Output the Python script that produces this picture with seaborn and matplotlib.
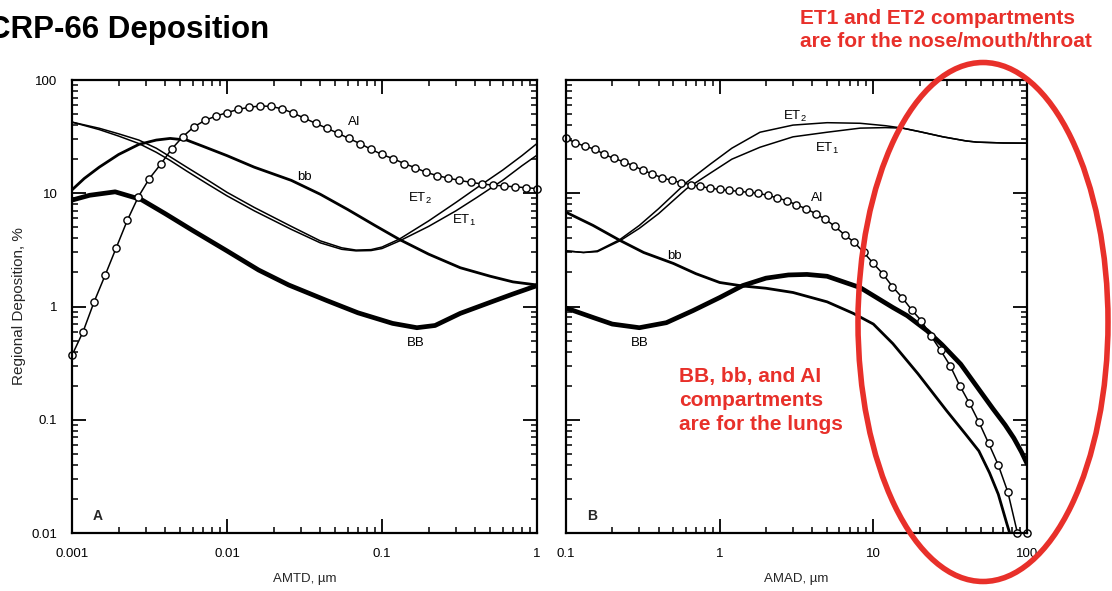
import matplotlib
matplotlib.use("Agg")
import matplotlib.pyplot as plt
from matplotlib.patches import Ellipse
import seaborn as sns

# ---- values (percent deposition) ----

# panel A: activity median thermodynamic diameter, um
amtd_ai = [0.001, 0.00118, 0.00139, 0.00164, 0.00193, 0.00228, 0.00268, 0.00316,
           0.00373, 0.00439, 0.00518, 0.00611, 0.0072, 0.00848, 0.01, 0.0118,
           0.0139, 0.0164, 0.0193, 0.0228, 0.0268, 0.0316, 0.0373, 0.0439,
           0.0518, 0.0611, 0.072, 0.0848, 0.1, 0.118, 0.139, 0.164, 0.193,
           0.228, 0.268, 0.316, 0.373, 0.439, 0.518, 0.611, 0.72, 0.848, 1.0]
ai_a = [0.37, 0.6, 1.1, 1.9, 3.3, 5.8, 9.3, 13.5, 18, 24.5, 31.5, 38.5, 44, 48,
        51.5, 55, 57.5, 59, 58.5, 55.5, 51, 46, 41.5, 37.6, 34, 30.5, 27.5, 24.5,
        22, 20.2, 18.3, 16.8, 15.3, 14.3, 13.6, 13, 12.5, 12.1, 11.8, 11.6, 11.4,
        11.2, 11.0]

amtd_bb = [0.001, 0.0012, 0.0015, 0.002, 0.0027, 0.0035, 0.0043, 0.0055, 0.007,
           0.01, 0.015, 0.026, 0.04, 0.06, 0.09, 0.13, 0.2, 0.32, 0.5, 0.7, 1.0]
bb_small_a = [10.7, 13.5, 17, 22, 27, 29.5, 30.5, 29.5, 26, 21.5, 17, 13, 9.8,
              7.2, 5.2, 3.9, 2.9, 2.2, 1.85, 1.65, 1.55]

amtd_et = [0.001, 0.0015, 0.002, 0.0027, 0.0035, 0.0043, 0.0055, 0.0077, 0.01,
           0.015, 0.026, 0.04, 0.055, 0.068, 0.085, 0.1, 0.13, 0.2, 0.3, 0.41,
           0.6, 0.8, 1.0]
et1_a = [42.5, 36.5, 32, 27.5, 23, 19.5, 15.7, 11.8, 9.5, 7.0, 4.8, 3.65, 3.2,
         3.1, 3.12, 3.25, 3.8, 5.1, 7.0, 9.2, 13, 17.5, 21.7]
et2_a = [42.5, 37.5, 33.5, 29.5, 25, 21, 17, 12.8, 10.2, 7.5, 5.1, 3.8, 3.3,
         3.15, 3.18, 3.35, 3.95, 5.7, 8.3, 11.2, 16, 21.5, 27.5]

amtd_BB = [0.001, 0.0013, 0.0019, 0.0028, 0.004, 0.006, 0.01, 0.016, 0.025,
           0.044, 0.07, 0.117, 0.168, 0.22, 0.32, 0.5, 0.7, 1.0]
bb_big_a = [8.7, 9.6, 10.3, 8.8, 6.6, 4.7, 3.1, 2.1, 1.55, 1.13, 0.88, 0.71,
            0.65, 0.68, 0.87, 1.09, 1.29, 1.53]

# panel B: activity median aerodynamic diameter, um
amad_ai = [0.1, 0.115, 0.133, 0.154, 0.178, 0.205, 0.237, 0.274, 0.316, 0.365,
           0.422, 0.487, 0.562, 0.649, 0.75, 0.866, 1, 1.15, 1.33, 1.54, 1.78,
           2.05, 2.37, 2.74, 3.16, 3.65, 4.22, 4.87, 5.62, 6.49, 7.5, 8.66, 10,
           11.5, 13.3, 15.4, 17.8, 20.5, 23.7, 27.4, 31.6, 36.5, 42.2, 48.7,
           56.2, 64.9, 75, 86.6, 100]
ai_b = [30.5, 28, 26, 24.5, 22, 20.3, 19, 17.5, 16, 14.8, 13.7, 13, 12.4, 11.9,
        11.5, 11.1, 10.8, 10.6, 10.4, 10.2, 10, 9.6, 9.1, 8.6, 7.9, 7.3, 6.6,
        5.9, 5.1, 4.3, 3.7, 3.0, 2.4, 1.95, 1.5, 1.2, 0.93, 0.75, 0.55, 0.41,
        0.3, 0.2, 0.14, 0.095, 0.062, 0.04, 0.023, 0.01, 0.01]

amad_bb = [0.1, 0.15, 0.224, 0.32, 0.5, 0.7, 1, 1.4, 2, 3, 5, 7.4, 10, 13.4,
           19.5, 30, 40, 48.6, 57, 65, 74, 80, 85]
bb_small_b = [6.8, 5.2, 3.84, 3.0, 2.4, 1.95, 1.63, 1.52, 1.45, 1.33, 1.1, 0.87,
              0.7, 0.47, 0.255, 0.12, 0.074, 0.053, 0.034, 0.022, 0.012, 0.0085,
              0.005]

amad_BB = [0.1, 0.15, 0.2, 0.3, 0.45, 0.67, 1, 1.41, 2, 2.8, 3.7, 5, 8.2, 13.4,
           16.6, 22.4, 28, 37, 48, 60, 72, 82, 92, 100]
bb_big_b = [0.97, 0.8, 0.7, 0.65, 0.72, 0.92, 1.2, 1.53, 1.78, 1.9, 1.92, 1.85,
            1.47, 0.98, 0.83, 0.61, 0.46, 0.31, 0.19, 0.125, 0.09, 0.069, 0.052,
            0.041]

amad_et = [0.1, 0.13, 0.16, 0.224, 0.3, 0.4, 0.61, 0.865, 1.2, 1.83, 3, 5, 8.2,
           12, 15.5, 20, 28.4, 40, 47, 70, 100]
et1_b = [3.1, 3.0, 3.05, 3.8, 4.9, 6.6, 11, 15, 20, 25.5, 31.5, 34.6, 37.6, 38,
         37.6, 35, 31.5, 29, 28.3, 27.8, 27.7]
et2_b = [3.1, 3.0, 3.1, 3.9, 5.2, 7.3, 12.5, 18, 25, 34.6, 40, 42, 41.5, 39.5,
         37.6, 35, 31.5, 29, 28.3, 27.8, 27.7]

y_ticks = [0.01, 0.1, 1, 10, 100]
y_tick_labels = ["0.01", "0.1", "1", "10", "100"]
a_ticks = [0.001, 0.01, 0.1, 1]
a_tick_labels = ["0.001", "0.01", "0.1", "1"]
b_ticks = [0.1, 1, 10, 100]
b_tick_labels = ["0.1", "1", "10", "100"]

RED = "#e8302a"
FONT = ["Liberation Sans", "DejaVu Sans"]

sns.set_theme(style="ticks", rc={
    "xtick.direction": "in", "ytick.direction": "in",
    "xtick.top": True, "ytick.right": True,
    "xtick.major.size": 10, "ytick.major.size": 10,
    "xtick.minor.size": 4.5, "ytick.minor.size": 4.5,
    "xtick.major.width": 1.3, "ytick.major.width": 1.3,
    "xtick.minor.width": 1.1, "ytick.minor.width": 1.1,
    "axes.linewidth": 1.6, "axes.edgecolor": "black",
    "xtick.color": "black", "ytick.color": "black",
})
plt.rcParams["font.family"] = FONT
plt.rcParams["mathtext.fontset"] = "custom"
plt.rcParams["mathtext.rm"] = "Liberation Sans"

fig = plt.figure(figsize=(11.12, 5.91), dpi=100)
ax_a = fig.add_axes([0.0647, 0.0981, 0.4182, 0.7665])
ax_b = fig.add_axes([0.509, 0.0981, 0.4146, 0.7665])

circle = dict(marker="o", markersize=5.2, markerfacecolor="white",
              markeredgecolor="black", markeredgewidth=1.0)


def draw(ax, x, y, lw, **kw):
    sns.lineplot(x=x, y=y, ax=ax, color="black", linewidth=lw,
                 estimator=None, sort=False, legend=False, **kw)


draw(ax_a, amtd_BB, bb_big_a, 3.4)
draw(ax_a, amtd_bb, bb_small_a, 2.0)
draw(ax_a, amtd_et, et1_a, 1.1)
draw(ax_a, amtd_et, et2_a, 1.1)
draw(ax_a, amtd_ai, ai_a, 1.1, clip_on=False, **circle)

draw(ax_b, amad_BB, bb_big_b, 3.4)
draw(ax_b, amad_bb, bb_small_b, 2.0)
draw(ax_b, amad_et, et1_b, 1.1)
draw(ax_b, amad_et, et2_b, 1.1)
draw(ax_b, amad_ai, ai_b, 1.1, clip_on=False, **circle)

for ax, lim, ticks, labels in [(ax_a, (0.001, 1), a_ticks, a_tick_labels),
                               (ax_b, (0.1, 100), b_ticks, b_tick_labels)]:
    ax.set_xscale("log")
    ax.set_yscale("log")
    ax.set_xlim(*lim)
    ax.set_ylim(0.01, 100)
    ax.set_xticks(ticks)
    ax.set_xticklabels(labels)
    ax.set_yticks(y_ticks)
    ax.tick_params(axis="both", which="major", labelsize=9.5, pad=10.5)
    ax.grid(False)

ax_a.set_yticklabels(y_tick_labels)
ax_b.set_yticklabels([])

ax_a.set_xlabel("AMTD, \u00b5m", fontsize=9.5, labelpad=10)
ax_b.set_xlabel("AMAD, \u00b5m", fontsize=9.5, labelpad=10)
ax_a.set_ylabel("Regional Deposition, %", fontsize=11, labelpad=4)

lab = dict(fontsize=9.5, color="black", ha="center", va="center")
ax_a.text(0.0665, 42.5, "AI", **lab)
ax_a.text(0.0316, 13.8, "bb", **lab)
ax_a.text(0.175, 9.0, "ET$_2$", **lab)
ax_a.text(0.34, 5.75, "ET$_1$", **lab)
ax_a.text(0.164, 0.48, "BB", **lab)
ax_a.text(0.00146, 0.014, "A", fontsize=10, fontweight="bold", ha="center", va="center")

ax_b.text(3.1, 48, "ET$_2$", **lab)
ax_b.text(5.0, 25, "ET$_1$", **lab)
ax_b.text(4.3, 9.0, "AI", **lab)
ax_b.text(0.51, 2.8, "bb", **lab)
ax_b.text(0.3, 0.48, "BB", **lab)
ax_b.text(0.148, 0.014, "B", fontsize=10, fontweight="bold", ha="center", va="center")

fig.text(-12 / 1112, 1 - 38 / 591, "CRP-66 Deposition", fontsize=22.5,
         fontweight="bold", ha="left", va="baseline", color="black")
fig.text(800 / 1112, 1 - 9 / 591,
         "ET1 and ET2 compartments\nare for the nose/mouth/throat",
         fontsize=15, fontweight="bold", color=RED, ha="left", va="top",
         linespacing=1.25)
fig.text(679 / 1112, 1 - 367 / 591,
         "BB, bb, and AI\ncompartments\nare for the lungs",
         fontsize=15, fontweight="bold", color=RED, ha="left", va="top",
         linespacing=1.32)

fig.add_artist(Ellipse((983 / 1112, 1 - 322 / 591), 250 / 1112, 519 / 591,
                       transform=fig.transFigure, fill=False, edgecolor=RED,
                       linewidth=4.0, clip_on=False, zorder=10))

fig.savefig("out.png", dpi=100)
